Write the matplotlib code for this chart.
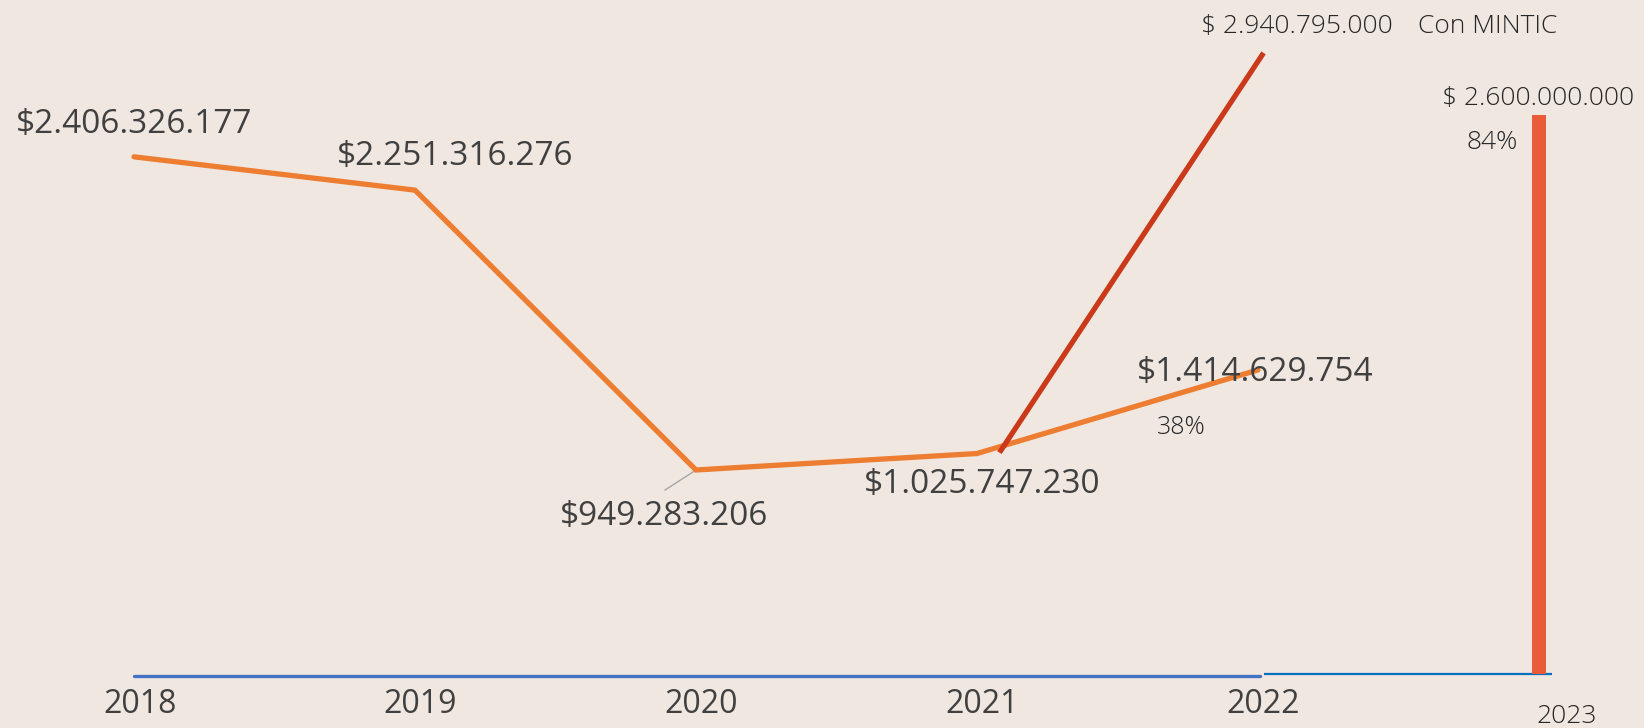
import matplotlib
matplotlib.use("Agg")
import matplotlib.pyplot as plt

# ---- data ----
years = [2018, 2019, 2020, 2021, 2022]
values = [2406326177, 2251316276, 949283206, 1025747230, 1414629754]
value_labels = ["$2.406.326.177", "$2.251.316.276", "$949.283.206", "$1.025.747.230", "$1.414.629.754"]
year_labels = ["2018", "2019", "2020", "2021", "2022"]
mintic_x = [2021.08, 2022.02]
mintic_values = [1030000000, 2890000000]
mintic_label = "$ 2.940.795.000"
mintic_name = "Con MINTIC"
bar_year = 2023.0
bar_value = 2600000000
bar_label = "$ 2.600.000.000"
pct_2022 = "38%"
pct_2023 = "84%"
year_2023 = "2023"

BG = "#F0E7E1"
TXT = "#404040"
TXT2 = "#262626"
FONT = ["Open Sans", "DejaVu Sans"]

fig = plt.figure(figsize=(16.44, 7.28), dpi=100, facecolor=BG)
ax = fig.add_axes([0, 0, 1, 1])
ax.set_facecolor(BG)
ax.set_xlim(2017.523, 2023.374)
ax.set_ylim(-0.2513e9, 3.136e9)
ax.axis("off")

# baseline (axis lines)
ax.plot([years[0], 2022.007], [-0.009e9, -0.009e9], color="#4472C4", lw=2.4, solid_capstyle="round", zorder=1)
ax.plot([2022.021, 2023.046], [-0.002e9, -0.002e9], color="#0070C0", lw=1.6, solid_capstyle="butt", zorder=1)

# main series
ax.plot(years, values, color="#ED7D31", lw=3.8, solid_capstyle="round", solid_joinstyle="miter", zorder=3)
# MINTIC line
ax.plot(mintic_x, mintic_values, color="#C9391A", lw=3.8, solid_capstyle="butt", zorder=4)
# 2023 bar
ax.bar([bar_year], [bar_value], width=0.05, color="#E95C3A", zorder=2)

# data labels
lab_pos = [(2018.0, 2.559e9), (2019.142, 2.406e9), (2019.886, 0.731e9), (2021.018, 0.884e9), (2021.989, 1.405e9)]
for (lx, ly), t in zip(lab_pos, value_labels):
    ax.text(lx, ly, t, ha="center", va="center", fontsize=24, color=TXT, family=FONT, zorder=5)
# leader line for 2020
ax.plot([2020.0, 2019.89], [0.949e9, 0.856e9], color="#A6A6A6", lw=1.0, zorder=2)

ax.text(2021.726, 1.145e9, pct_2022, ha="center", va="center", fontsize=18, color=TXT2,
        family=FONT, fontweight="light")
ax.text(2022.139, 3.011e9, mintic_label, ha="center", va="center", fontsize=19, color=TXT2,
        family=FONT, fontweight="light")
ax.text(2022.569, 3.011e9, mintic_name, ha="left", va="center", fontsize=19, color=TXT2,
        family=FONT, fontweight="light")
ax.text(2022.996, 2.680e9, bar_label, ha="center", va="center", fontsize=19, color=TXT2,
        family=FONT, fontweight="light")
ax.text(2022.833, 2.471e9, pct_2023, ha="center", va="center", fontsize=19, color=TXT2,
        family=FONT, fontweight="light")

# year labels
for yx, t in zip(years, year_labels):
    ax.text(yx + 0.02, -0.144e9, t, ha="center", va="center", fontsize=23, color=TXT, family=FONT)
ax.text(2023.10, -0.2e9, year_2023, ha="center", va="center", fontsize=19, color=TXT2,
        family=FONT, fontweight="light")

fig.savefig("out.png", dpi=100, facecolor=BG)
